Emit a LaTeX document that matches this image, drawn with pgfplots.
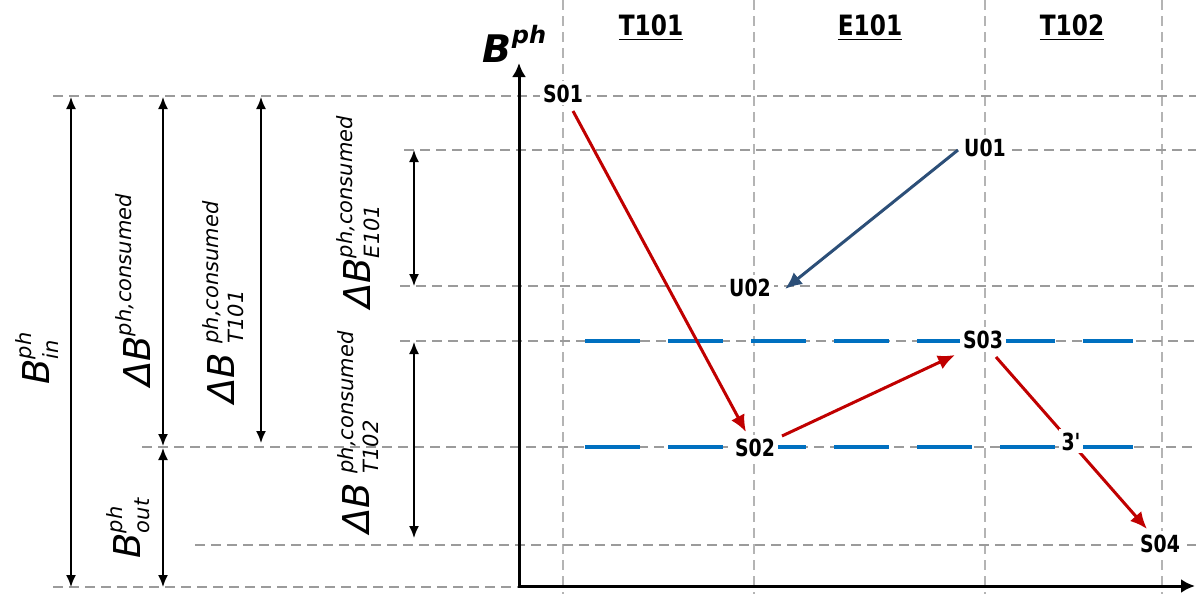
\documentclass[border=0pt]{standalone}
\usepackage{pgfplots}
\pgfplotsset{compat=1.18}
\usepackage{amsmath}
\usepackage{fontspec}
\setmainfont{DejaVu Sans}
\newfontfamily\lblfont{DejaVu Sans}[FakeStretch=0.8]
\newfontfamily\hdrfont{DejaVu Sans}[FakeStretch=0.83]
\DeclareMathSizes{18.5}{18.5}{10.5}{8}
\DeclareMathSizes{19}{19}{12}{9}
\usetikzlibrary{arrows.meta}
\definecolor{arrred}{RGB}{192,0,0}
\definecolor{dashblue}{RGB}{0,112,192}
\definecolor{udark}{RGB}{44,79,120}
\definecolor{gridgray}{RGB}{155,155,155}
\definecolor{vgray}{RGB}{180,180,180}
\tikzset{
  gl/.style={gridgray, line width=0.6pt, dash pattern=on 5pt off 3pt},
  vl/.style={vgray, line width=0.7pt, dash pattern=on 5pt off 3pt},
  bl/.style={dashblue, line width=1.7pt, dash pattern=on 27.5pt off 14pt},
  ra/.style={arrred, line width=1.5pt, -{Latex[length=8.5pt,width=7.5pt]}},
  da/.style={black, line width=0.8pt, {Latex[length=6pt,width=5pt]}-{Latex[length=6pt,width=5pt]}},
  lbl/.style={font=\lblfont\fontsize{11.8}{13}\selectfont\bfseries, fill=white, inner sep=1.5pt, anchor=base},
  hdr/.style={font=\hdrfont\fontsize{14}{16}\selectfont\bfseries, anchor=base},
  big/.style={font=\fontsize{18.5}{22}\selectfont, rotate=90, anchor=center},
}
\begin{document}
\begin{tikzpicture}
\begin{axis}[
  scale only axis, width=598pt, height=297pt,
  xmin=0, xmax=1196, ymin=0, ymax=594, y dir=reverse,
  hide axis, clip=false,
]
% vertical grid lines
\addplot[vl] coordinates {(563,0) (563,594)};
\addplot[vl] coordinates {(754,0) (754,594)};
\addplot[vl] coordinates {(985,0) (985,594)};
\addplot[vl] coordinates {(1162,0) (1162,594)};
% horizontal grid lines
\addplot[gl] coordinates {(53,96) (1196,96)};
\addplot[gl] coordinates {(404,150) (1196,150)};
\addplot[gl] coordinates {(400,286) (1196,286)};
\addplot[gl] coordinates {(400,341) (1196,341)};
\addplot[gl] coordinates {(142,447) (1196,447)};
\addplot[gl] coordinates {(195,545) (1196,545)};
\addplot[gl] coordinates {(53,587) (518,587)};
% blue dashed levels
\addplot[bl] coordinates {(585,341) (1133,341)};
\addplot[bl] coordinates {(585,447) (1133,447)};
% axes
\addplot[black, line width=1.5pt, -{Latex[length=7pt,width=7pt]}] coordinates {(519,587) (519,63)};
\addplot[black, line width=1.5pt, -{Latex[length=7pt,width=7pt]}] coordinates {(518,586) (1195,586)};
% process arrows
\addplot[ra] coordinates {(573,111) (746,432)};
\addplot[ra] coordinates {(782,436) (955,355)};
\addplot[ra] coordinates {(996,357) (1147,529)};
\addplot[udark, line width=1.5pt, -{Latex[length=8.5pt,width=7.5pt]}] coordinates {(958,150) (785,289)};
% left dimension arrows
\addplot[da] coordinates {(71,97) (71,587)};
\addplot[da] coordinates {(163,97) (163,446)};
\addplot[da] coordinates {(163,448) (163,587)};
\addplot[da] coordinates {(261,97) (261,443)};
\addplot[da] coordinates {(414,150) (414,286)};
\addplot[da] coordinates {(414,342) (414,538)};
% labels
\node[lbl] at (axis cs:563,102) {S01};
\node[lbl] at (axis cs:985,156) {U01};
\node[lbl] at (axis cs:750,296) {U02};
\node[lbl] at (axis cs:983,348) {S03};
\node[lbl] at (axis cs:755,456) {S02};
\node[lbl] at (axis cs:1071,450) {3'};
\node[lbl] at (axis cs:1160,552) {S04};
\node[hdr] at (axis cs:651,35) {\underline{T101}};
\node[hdr] at (axis cs:870,35) {\underline{E101}};
\node[hdr] at (axis cs:1072,35) {\underline{T102}};
\node[font=\fontsize{19}{22}\selectfont, anchor=center] at (axis cs:515,44) {$\textbf{\textit{B}}^{\textbf{\textit{ph}}}$};
\node[big] at (axis cs:37,358) {$\textit{B}^{\textit{ph}}_{\textit{in}}$};
\node[big] at (axis cs:133,290) {$\textit{ΔB}^{\textit{ph,consumed}}$};
\node[big] at (axis cs:128,528) {$\textit{B}^{\textit{ph}}_{\textit{out}}$};
\node[big] at (axis cs:223,302) {$\textit{ΔB}\;{}^{\textit{ph,consumed}}_{\textit{T101}}$};
\node[big] at (axis cs:358,212) {$\textit{ΔB}^{\textit{ph,consumed}}_{\textit{E101}}$};
\node[big] at (axis cs:358,432) {$\textit{ΔB}\;{}^{\textit{ph,consumed}}_{\textit{T102}}$};
\end{axis}
\pgfresetboundingbox
\path (0,0) rectangle (598pt,297pt);
\end{tikzpicture}
\end{document}
